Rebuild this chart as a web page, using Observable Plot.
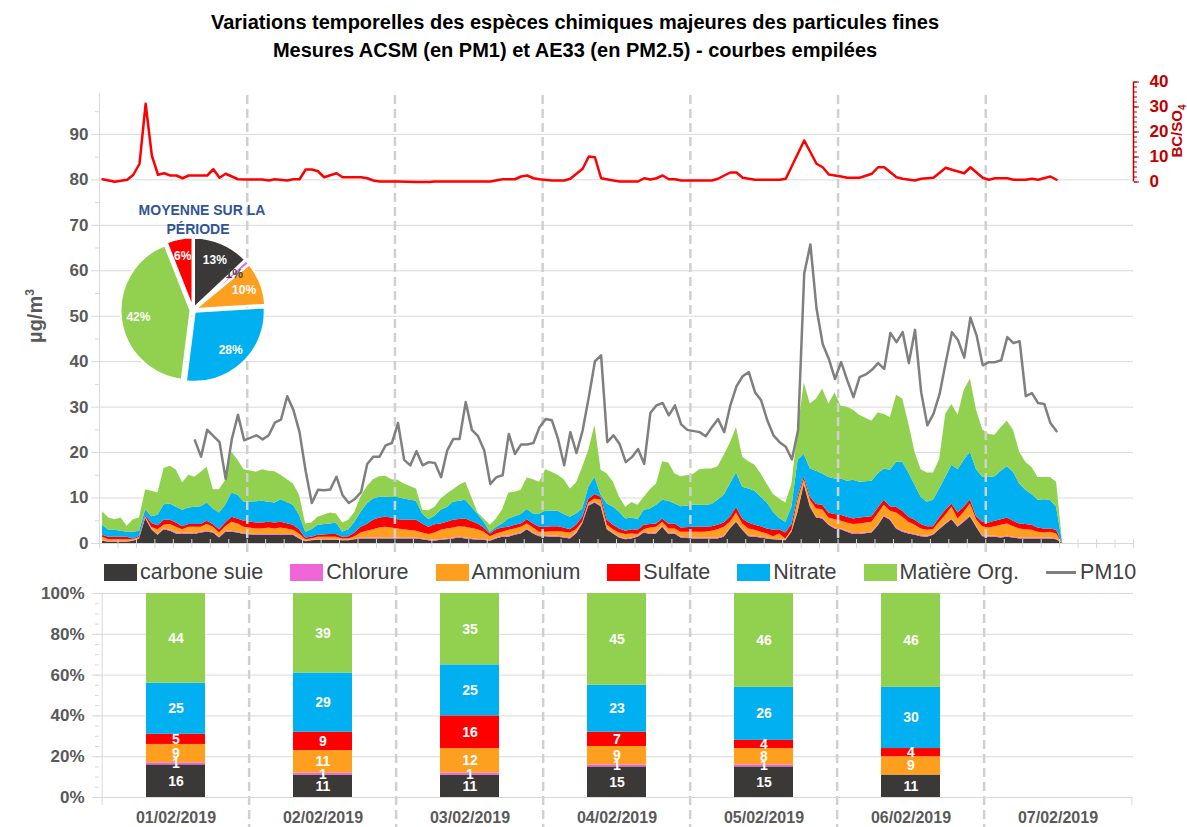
<!DOCTYPE html>
<html lang="fr">
<head>
<meta charset="utf-8">
<title>Variations temporelles des espèces chimiques majeures des particules fines</title>
<script src="https://cdn.jsdelivr.net/npm/d3@7"></script>
<script src="https://cdn.jsdelivr.net/npm/@observablehq/plot@0.6"></script>
<style>
  html, body { margin: 0; padding: 0; background: #fff; }
  #page { position: relative; width: 1187px; height: 827px; overflow: hidden; font-family: "Liberation Sans", Arial, sans-serif; }
  #page svg { position: absolute; left: 0; max-width: none; }
  #title { position: absolute; left: 0; top: 8px; width: 1150px; text-align: center; font-weight: bold; font-size: 20px; line-height: 28px; color: #000; }
  .vlabel { position: absolute; transform: rotate(-90deg); text-align: center; font-weight: bold; white-space: nowrap; }
  #legend { position: absolute; left: 104px; top: 560px; height: 24px; display: flex; align-items: center; gap: 27px; font-size: 21.5px; color: #404040; white-space: nowrap; }
  .item { display: flex; align-items: center; }
  .sw { display: inline-block; width: 33px; height: 17px; margin-right: 3px; }
  .ln { display: inline-block; width: 30px; height: 3px; background: #7F7F7F; margin-right: 4px; }
</style>
</head>
<body>
<div id="page">
  <div id="title">Variations temporelles des espèces chimiques majeures des particules fines<br>Mesures ACSM (en PM1) et AE33 (en PM2.5) - courbes empilées</div>
</div>
<script>
// ---------- DATA ----------
const species = ["carbone suie", "Chlorure", "Ammonium", "Sulfate", "Nitrate", "Matière Org."];
const speciesColors = ["#3B3838", "#F066D8", "#FF9F1F", "#FF0000", "#00B0F0", "#92D050"];

// hours since 01/02/2019 00:00 (hourly samples)
const stackHours = [0,1,2,3,4,5,6,7,8,9,
  10,11,12,13,14,15,16,17,18,19,
  20,21,22,23,25,26,27,28,29,31,
  32,33,34,35,37,38,39,40,41,42,
  43,44,45,46,47,48,49,51,52,53,
  54,55,56,57,58,59,61,62,63,64,
  65,66,67,68,69,70,71,72,73,74,
  75,76,77,78,79,80,81,82,83,84,
  85,86,87,88,89,90,91,92,93,94,
  96,97,98,99,100,101,102,103,104,105,
  106,107,108,109,110,111,112,113,114,115,
  116,117,118,119,120,121,122,123,125,126,
  127,128,129,130,131,132,133,134,135,136,
  137,138,139,140,141,142,143,144,145,146,
  147,148,149,150,151,152,153,154,155,156];

const carboneSuie = [.5,.3,.3,.3,.3,.5,1.0,5.5,3.0,1.8,
  3.0,2.7,2.1,2.0,2.1,2.0,2.3,2.5,2.3,1.2,
  2.5,2.5,2.3,2.0,1.8,1.8,1.8,1.8,1.8,1.8,
  1.0,.4,.6,.7,.7,.7,.6,.6,.8,1.0,
  1.0,1.0,1.0,1.0,1.0,1.0,1.0,1.0,.8,.6,
  .5,.7,.8,1.0,1.2,1.0,.7,.7,.5,1.0,
  1.4,1.4,1.8,2.1,3.0,2.1,1.5,1.5,1.4,1.4,
  1.2,1.0,2.1,4.3,8.2,8.9,8.1,3.0,2.1,1.2,
  .8,1.0,1.4,2.3,2.0,2.1,3.6,2.0,2.1,1.2,
  1.0,1.0,1.0,1.0,1.0,1.4,3.2,4.7,2.9,1.5,
  1.4,1.2,1.0,.8,.7,.6,2.5,6.9,13.0,8.0,
  5.6,5.4,4.0,3.2,3.0,2.5,2.0,2.0,2.3,3.8,
  5.9,5.1,3.2,2.5,2.1,1.8,1.5,1.4,1.8,3.0,
  4.2,5.2,3.6,4.7,5.9,3.6,1.5,1.4,1.4,1.2,
  1.4,1.2,1.0,1.0,1.0,1.0,1.0,1.0,.8,0];

const chlorure = [.1,.1,.1,.1,.1,.1,.1,.2,.2,.2,
  .2,.2,.2,.2,.2,.2,.2,.2,.2,.2,
  .2,.2,.2,.2,.2,.2,.2,.2,.2,.2,
  .2,.1,.1,.1,.1,.1,.1,.1,.1,.2,
  .2,.2,.2,.2,.2,.2,.2,.2,.2,.2,
  .2,.2,.2,.2,.2,.2,.2,.2,.1,.2,
  .2,.2,.2,.2,.2,.2,.2,.2,.2,.2,
  .2,.2,.2,.2,.2,.2,.2,.2,.2,.2,
  .2,.2,.2,.2,.2,.2,.2,.2,.2,.2,
  .2,.2,.2,.2,.2,.2,.2,.2,.2,.2,
  .2,.2,.2,.1,.1,.1,.1,.2,.2,.2,
  .2,.2,.2,.2,.2,.2,.2,.2,.2,.2,
  .2,.2,.2,.2,.2,.2,.2,.2,.2,.2,
  .2,.2,.2,.2,.2,.2,.2,.2,.2,.2,
  .2,.2,.2,.2,.2,.2,.2,.2,.2,0];

const ammonium = [.8,.4,.4,.4,.4,.2,.2,.2,.3,1.0,
  .8,1.3,1.3,.8,1.3,1.4,1.1,1.5,1.1,.9,
  1.0,2.0,1.8,1.4,1.2,1.2,1.4,1.2,1.4,.9,
  .9,.3,.3,.6,.6,.6,.3,.3,.6,1.1,
  1.5,1.8,2.2,2.4,2.2,2.0,1.8,1.5,1.3,1.2,
  1.6,2.0,2.2,2.2,2.3,2.4,2.1,1.6,.9,.9,
  .9,1.3,1.2,1.3,1.1,1.1,.8,.8,1.0,1.0,
  1.1,1.1,.7,.2,.5,.7,1.2,.8,.7,.9,
  1.0,.9,.4,.5,1.2,1.3,.9,1.0,.9,1.1,
  1.3,1.3,1.3,1.5,1.8,2.0,1.3,1.8,1.2,1.5,
  1.3,1.1,.9,.6,1.3,.3,.3,2.4,.8,1.3,
  1.8,1.8,1.4,1.8,1.7,1.8,2.0,2.1,2.2,2.5,
  2.3,1.8,3.3,3.1,2.4,2.0,1.5,1.3,1.0,1.5,
  1.8,2.6,1.6,2.0,2.6,1.4,2.0,1.8,2.1,2.6,
  2.7,2.3,2.0,1.8,1.7,1.3,1.1,1.3,1.1,0];

const sulfate = [.4,.6,.6,.6,.6,.2,.3,.3,.9,.9,
  1.1,.9,.9,.7,.6,.6,.6,.7,.6,.7,
  .8,1.1,1.1,1.3,1.3,1.3,1.3,1.3,1.3,1.1,
  .9,.4,.4,.4,.6,.6,.4,.5,.8,1.3,
  1.5,2.1,2.2,2.2,2.2,2.0,2.1,2.4,2.0,1.6,
  1.8,1.4,1.5,1.7,1.6,1.8,1.3,.9,.6,.9,
  .9,.7,.8,.7,.9,.9,1.1,1.1,1.1,1.1,
  .9,.7,1.0,1.1,.8,1.0,.7,1.1,1.0,.9,
  .7,.9,.9,1.0,.8,.7,.7,1.1,1.1,.9,
  1.1,1.1,1.1,1.0,1.0,.9,1.1,1.2,1.1,1.3,
  1.1,1.2,1.1,1.4,.9,1.3,1.3,.7,.7,.7,
  1.0,1.0,1.1,1.2,1.3,1.3,1.2,1.3,1.2,1.2,
  1.1,1.0,1.2,1.3,1.1,1.1,1.0,.8,.7,.9,
  1.1,.7,1.3,1.1,.9,.7,1.0,1.1,1.2,1.2,
  1.3,1.2,1.1,1.2,1.1,.9,.9,.7,.8,0];

const nitrate = [2.2,1.5,1.5,1.3,1.1,1.5,1.1,1.2,1.5,2.3,
  3.4,3.6,3.5,3.6,3.6,3.8,3.9,4.0,3.4,3.7,
  3.9,5.3,5.2,4.2,4.7,4.8,4.4,4.4,4.9,4.4,
  3.2,1.3,1.6,2.2,2.3,2.5,1.1,1.5,2.4,3.3,
  4.5,4.7,4.6,4.4,4.5,4.9,4.7,4.2,2.2,1.7,
  1.9,3.0,3.2,4.0,4.0,4.1,2.1,1.3,.4,.6,
  .9,1.8,1.9,2.1,2.3,2.2,2.9,3.5,3.4,3.4,
  3.0,2.8,2.5,1.8,2.7,3.8,.4,3.6,4.0,3.7,
  2.7,2.6,2.3,3.3,3.4,4.1,4.1,5.0,4.4,4.7,
  4.8,4.8,4.8,4.9,5.5,6.1,7.3,7.6,7.0,7.5,
  7.5,6.5,5.7,4.0,2.5,2.4,3.8,8.1,4.9,6.2,
  7.3,6.9,7.8,7.8,8.0,7.9,8.5,7.9,7.8,7.6,
  6.9,8.0,10.0,10.8,9.7,7.7,6.0,5.4,5.8,6.4,
  7.3,8.5,9.5,10.3,10.5,10.3,9.9,10.0,9.8,10.7,
  11.3,10.8,8.8,7.5,6.8,6.1,6.4,6.3,5.1,0];

const matiereOrg = [3.0,2.7,2.3,2.9,1.3,2.7,2.9,4.4,5.6,4.9,
  8.0,8.3,8.1,6.0,7.2,6.6,7.6,7.9,4.2,5.1,
  5.5,9.0,7.7,7.1,6.5,6.9,6.8,6.9,5.4,4.7,
  4.4,1.8,1.5,1.8,2.4,2.0,2.0,2.1,2.2,3.4,
  3.8,4.2,4.5,4.6,3.9,3.8,3.3,2.7,.8,1.9,
  2.0,2.5,3.0,2.7,3.5,4.0,.3,.7,1.5,1.8,
  3.1,5.7,5.4,5.3,6.9,7.5,7.0,9.1,8.6,7.9,
  7.6,6.2,6.8,9.2,8.1,11.4,5.5,6.6,5.5,3.3,
  2.6,3.4,3.2,2.9,4.2,4.7,8.5,8.4,6.6,6.6,
  6.8,7.8,8.0,7.8,7.4,8.8,9.0,10.0,6.6,6.0,
  5.7,5.1,4.1,3.9,4.3,4.2,5.0,6.6,15.7,14.3,
  15.9,18.7,16.2,18.9,16.0,16.3,15.4,14.7,13.2,13.4,
  12.0,11.6,14.7,13.9,10.8,7.3,6.0,6.4,6.0,6.4,
  13.9,13.4,12.0,15.4,16.1,13.1,10.4,9.5,9.1,9.6,
  10.0,9.2,7.0,6.2,5.9,5.0,4.9,5.0,5.5,0];

const pm10Hours = [15,16,17,19,20,21,22,23,25,26,
  27,28,29,30,31,32,33,34,35,36,
  37,38,39,40,41,42,43,44,45,46,
  47,48,49,50,51,52,53,54,55,56,
  57,58,59,60,61,62,63,64,65,66,
  67,68,69,70,71,72,73,74,75,76,
  77,78,79,80,81,82,83,84,85,86,
  87,88,89,90,91,92,93,94,95,97,
  98,99,100,101,102,103,104,105,106,107,
  108,109,110,111,112,113,114,115,116,117,
  118,119,120,121,122,123,124,125,126,127,
  128,129,130,131,132,133,134,135,136,137,
  138,139,140,141,142,143,144,145,146,147,
  148,149,150,151,152,153,154,155];
const pm10 = [22.7,19.1,25.0,22.3,14.2,23.0,28.3,22.7,23.8,22.9,
  23.8,26.6,27.3,32.4,29.4,24.5,15.9,8.9,11.8,11.7,
  11.9,14.7,10.6,8.9,9.8,11.3,17.5,19.1,19.1,21.6,
  22.1,26.5,18.4,17.2,20.3,17.2,17.9,17.7,14.6,20.5,
  23.0,23.0,31.1,25.0,23.6,20.5,13.1,14.6,15.0,24.1,
  19.7,21.8,21.8,22.1,25.6,27.4,27.1,23.0,17.2,24.5,
  19.9,24.9,32.2,40.1,41.4,22.3,23.8,21.9,17.9,19.0,
  20.8,17.5,28.7,30.4,30.9,28.2,30.4,26.2,25.0,24.5,
  23.6,25.6,27.4,24.5,30.4,34.6,36.8,37.7,33.3,31.5,
  27.1,23.8,22.3,21.3,18.5,24.9,59.4,65.8,51.7,43.9,
  40.6,36.2,39.9,35.9,32.2,36.6,37.2,38.2,39.7,38.4,
  46.3,44.3,46.5,39.7,47.0,33.3,26.0,28.5,32.9,39.9,
  46.5,44.7,40.9,49.7,45.8,39.2,39.9,39.9,40.3,45.4,
  44.1,44.5,32.4,33.1,30.9,30.7,26.5,24.7];

const ratioHours = [0,2,4,5,6,7,8,9,10,11,
  12,13,14,15,17,18,19,20,21,22,
  24,26,27,28,30,31,32,33,34,35,
  36,38,39,42,43,44,45,48,51,53,
  54,63,65,67,68,69,70,71,73,75,
  76,78,79,80,81,83,84,87,88,89,
  90,91,92,93,94,99,100,101,102,103,
  104,106,110,111,114,116,117,118,120,121,
  123,125,126,127,129,130,132,133,135,137,
  138,140,141,143,144,145,147,148,150,151,
  152,154,155];
const bcSo4 = [1.1,0.1,0.9,2.9,7.3,31.3,10.6,2.9,3.5,2.6,
  2.6,1.5,2.6,2.6,2.6,5.1,1.7,3.3,2.2,1.1,
  1.0,1.0,0.6,1.1,0.6,1.1,1.1,5.0,5.0,4.3,
  1.9,3.5,1.9,1.9,1.5,0.6,0.2,0.2,0.0,0.0,
  0.2,0.2,1.1,1.1,2.2,2.6,1.5,1.1,0.6,0.6,
  1.3,5.3,10.2,9.9,1.5,0.6,0.2,0.2,1.5,1.0,
  1.5,2.6,1.1,1.1,0.6,0.6,1.3,2.6,3.8,3.8,
  1.7,0.9,0.9,1.3,16.6,7.3,5.9,3.0,2.2,1.7,
  1.7,3.3,5.9,5.9,1.9,1.3,0.6,1.3,1.7,5.7,
  4.9,3.5,5.9,1.7,0.9,1.5,1.5,0.9,0.9,1.3,
  0.9,2.2,0.9];

const pieSpecies = ["carbone suie", "Chlorure", "Ammonium", "Nitrate", "Matière Org.", "Sulfate"];
const pieShares = [13, 1, 10, 28, 42, 6];

const days = ["01/02/2019", "02/02/2019", "03/02/2019", "04/02/2019", "05/02/2019", "06/02/2019", "07/02/2019"];
const dayCarboneSuie = [16, 11, 11, 15, 15, 11];
const dayChlorure    = [1, 1, 1, 1, 1, 0];
const dayAmmonium    = [9, 11, 12, 9, 8, 9];
const daySulfate     = [5, 9, 16, 7, 4, 4];
const dayNitrate     = [25, 29, 25, 23, 26, 30];
const dayMatiereOrg  = [44, 39, 35, 45, 46, 46];

// ---------- BUILD ----------
const T0 = Date.UTC(2019, 1, 1);
const HOUR = 3600e3, DAY = 864e5;
const at = h => new Date(T0 + (h + 0.5) * HOUR);
const xDomain = [new Date(T0), new Date(T0 + 7 * DAY)];
const dayStarts = days.map((d, i) => new Date(T0 + i * DAY));
const hourTicks = d3.utcHour.every(3).range(xDomain[0], new Date(+xDomain[1] + 1));

const seriesValues = [carboneSuie, chlorure, ammonium, sulfate, nitrate, matiereOrg];
const stackRows = stackHours.flatMap((h, i) => species.map((s, j) => ({t: at(h), species: s, v: seriesValues[j][i]})));
const pm10Rows = pm10Hours.map((h, i) => ({t: at(h), v: pm10[i]}));
const ratioRows = ratioHours.map((h, i) => ({t: at(h), v: bcSo4[i]}));

const dayValues = [dayCarboneSuie, dayChlorure, dayAmmonium, daySulfate, dayNitrate, dayMatiereOrg];
const barRows = days.slice(0, dayCarboneSuie.length).flatMap((d, i) => species.map((s, j) => ({day: d, species: s, v: dayValues[j][i]})));

const grey = "#D9D9D9";
const axisGrey = "#595959";
const font = '"Liberation Sans", Arial, sans-serif';
const baseStyle = {fontFamily: font, background: "transparent", overflow: "visible"};
const W = 1187, ML = 99, MR = 54;
const TOP_MT = 93, TOP_MB = 17, TOP_H = 560;
const frameH = TOP_H - TOP_MT - TOP_MB;

const page = document.getElementById("page");

// Top chart (µg/m3)
const topChart = Plot.plot({
  width: W, height: TOP_H,
  marginLeft: ML, marginRight: MR, marginTop: TOP_MT, marginBottom: TOP_MB,
  style: baseStyle,
  x: {type: "utc", domain: xDomain, label: null, axis: null},
  y: {domain: [0, 99], label: null},
  color: {domain: species, range: speciesColors},
  marks: [
    Plot.ruleY(d3.range(10, 91, 10), {stroke: grey}),
    Plot.areaY(stackRows, {x: "t", y: "v", fill: "species", order: species}),
    Plot.ruleX(dayStarts.slice(1), {stroke: "#D0D0D0", strokeWidth: 2.5, strokeDasharray: "9,5", insetTop: 2, insetBottom: -14}),
    Plot.line(pm10Rows, {x: "t", y: "v", stroke: "#7F7F7F", strokeWidth: 2.5}),
    Plot.ruleX([xDomain[0]], {stroke: grey}),
    Plot.ruleY([0], {stroke: grey}),
    // 3-hour tick marks on the time axis (no labels)
    Plot.ruleX(hourTicks, {stroke: grey, insetTop: frameH - 4, insetBottom: -5}),
    Plot.axisY({ticks: d3.range(0, 91, 10), tickSize: 8, tickPadding: 3, stroke: grey, fill: axisGrey, fontSize: 17, fontWeight: "bold"}),
    Plot.axisY({ticks: d3.range(5, 96, 10), tickSize: 4, tickFormat: () => "", stroke: grey})
  ]
});
topChart.style.top = "0px";
page.appendChild(topChart);

// BC/SO4 overlay (right axis)
const ratioChart = Plot.plot({
  width: W, height: TOP_H,
  marginLeft: ML, marginRight: MR, marginTop: TOP_MT, marginBottom: TOP_MB,
  style: baseStyle,
  x: {type: "utc", domain: xDomain, label: null, axis: null},
  y: {domain: [0, 40], range: [181.5, 81.5], label: null},
  marks: [
    Plot.line(ratioRows, {x: "t", y: "v", stroke: "#FF0000", strokeWidth: 2.5}),
    Plot.ruleX([xDomain[1]], {y1: 0, y2: 40, stroke: "#C00000", strokeWidth: 1.5}),
    Plot.axisY({anchor: "right", ticks: d3.range(0, 41, 10), tickSize: 5, tickPadding: 11, stroke: "#C00000", fill: "#C00000", fontSize: 17, fontWeight: "bold"}),
    Plot.axisY({anchor: "right", ticks: d3.range(0, 41, 2), tickSize: 3, tickFormat: () => "", stroke: "#C00000"})
  ]
});
ratioChart.style.top = "0px";
page.appendChild(ratioChart);

// Pie (mean over the period)
const colorOf = d3.scaleOrdinal(species, speciesColors);
const pieSvg = d3.create("svg").attr("width", W).attr("height", 560).style("top", "0px").style("font-family", font);
const pieArcs = d3.pie().sort(null).value(d => d)(pieShares);
const arc = d3.arc().innerRadius(0).outerRadius(70);
const labelArc = d3.arc().innerRadius(55).outerRadius(55);
const pg = pieSvg.append("g").attr("transform", "translate(193,310)");
pg.selectAll("path").data(pieArcs).join("path")
  .attr("d", arc)
  .attr("fill", (d, i) => colorOf(pieSpecies[i]))
  .attr("stroke", "#fff").attr("stroke-width", 2)
  .attr("transform", d => { const a = (d.startAngle + d.endAngle) / 2; return `translate(${2.5 * Math.sin(a)},${-2.5 * Math.cos(a)})`; });
pg.selectAll("text").data(pieArcs).join("text")
  .attr("transform", d => `translate(${labelArc.centroid(d)})`)
  .attr("text-anchor", "middle").attr("dy", "0.35em")
  .attr("font-size", 12).attr("font-weight", "bold")
  .attr("fill", (d, i) => pieShares[i] < 2 ? "#404040" : "#fff")
  .text(d => d.data + "%");
pieSvg.append("text").attr("x", 202).attr("y", 215).attr("text-anchor", "middle")
  .attr("font-size", 14).attr("font-weight", "bold").attr("fill", "#2F5597").text("MOYENNE SUR LA");
pieSvg.append("text").attr("x", 198).attr("y", 234).attr("text-anchor", "middle")
  .attr("font-size", 14).attr("font-weight", "bold").attr("fill", "#2F5597").text("PÉRIODE");
page.appendChild(pieSvg.node());

// Axis titles
const yTitle = document.createElement("div");
yTitle.className = "vlabel";
yTitle.style.cssText += "left:-20px;top:304px;width:100px;height:24px;line-height:24px;font-size:20px;color:#595959;";
yTitle.innerHTML = "µg/m<sup style='font-size:12px'>3</sup>";
page.appendChild(yTitle);

const rTitle = document.createElement("div");
rTitle.className = "vlabel";
rTitle.style.cssText += "left:1137px;top:122px;width:80px;height:18px;line-height:18px;font-size:15px;color:#C00000;";
rTitle.innerHTML = "BC/SO<sub style='font-size:10px'>4</sub>";
page.appendChild(rTitle);

// Legend
const legend = d3.select(page).append("div").attr("id", "legend");
species.forEach((s, i) => {
  const it = legend.append("span").attr("class", "item");
  it.append("span").attr("class", "sw").style("background", speciesColors[i]);
  it.append("span").text(s);
});
const pmItem = legend.append("span").attr("class", "item");
pmItem.append("span").attr("class", "ln");
pmItem.append("span").text("PM10");

// Bottom chart (daily composition, %)
const step = (W - ML - MR) / days.length;
const bottomChart = Plot.plot({
  width: W, height: 267,
  marginLeft: ML, marginRight: MR, marginTop: 33, marginBottom: 30,
  style: baseStyle,
  x: {type: "band", domain: days, paddingInner: 0.6, paddingOuter: 0.3, label: null},
  y: {domain: [0, 100], label: null},
  color: {domain: species, range: speciesColors},
  marks: [
    Plot.ruleY(d3.range(20, 101, 20), {stroke: grey}),
    Plot.barY(barRows, {x: "day", y: "v", fill: "species", order: species}),
    Plot.text(barRows.filter(d => d.v > 0), Plot.stackY({x: "day", y: "v", z: "species", order: species, text: "v", fill: "white", fontWeight: "bold", fontSize: 14})),
    Plot.ruleX(days.slice(1), {dx: -step / 2, stroke: "#D0D0D0", strokeWidth: 2.5, strokeDasharray: "9,5", insetTop: -7, insetBottom: -30}),
    Plot.ruleX(days.slice(0, 1), {dx: -step / 2, stroke: grey, insetBottom: -8}),
    Plot.ruleX(days.slice(-1), {dx: step / 2, stroke: grey, insetTop: 204, insetBottom: -8}),
    Plot.ruleY([0], {stroke: grey}),
    Plot.axisY({ticks: d3.range(0, 101, 20), tickFormat: d => d + "%", tickSize: 7, tickPadding: 8, stroke: grey, fill: axisGrey, fontSize: 17, fontWeight: "bold"}),
    Plot.axisY({ticks: d3.range(0, 101, 5), tickSize: 4, tickFormat: () => "", stroke: grey}),
    Plot.axisX({tickSize: 0, tickPadding: 14, fill: axisGrey, fontSize: 16, fontWeight: "bold"})
  ]
});
bottomChart.style.top = "560px";
page.appendChild(bottomChart);
</script>
</body>
</html>
